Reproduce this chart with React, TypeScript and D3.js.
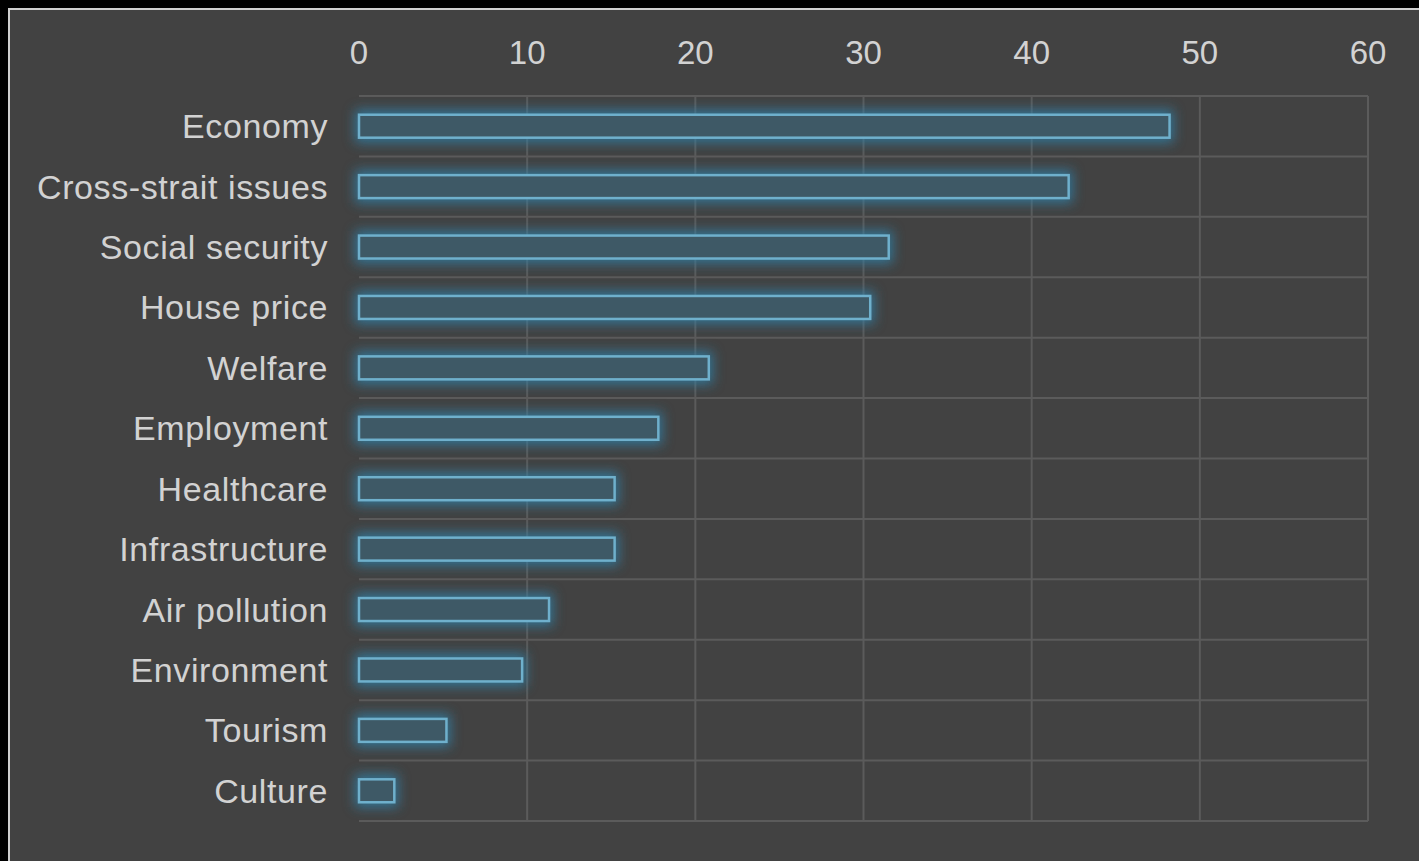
import React from "react";
import * as d3 from "d3";

const categories = [
  "Economy",
  "Cross-strait issues",
  "Social security",
  "House price",
  "Welfare",
  "Employment",
  "Healthcare",
  "Infrastructure",
  "Air pollution",
  "Environment",
  "Tourism",
  "Culture",
];
const values = [48.2, 42.2, 31.5, 30.4, 20.8, 17.8, 15.2, 15.2, 11.3, 9.7, 5.2, 2.1];
const tickValues = [0, 10, 20, 30, 40, 50, 60];

const W = 1419;
const H = 861;
const plot = { left: 359, right: 1368, top: 96, bottom: 821 };

export default function App() {
  const x = d3.scaleLinear().domain([0, 60]).range([plot.left, plot.right]);
  const y = d3
    .scaleBand<string>()
    .domain(categories)
    .range([plot.top, plot.bottom])
    .paddingInner(0.62)
    .paddingOuter(0.31);
  const rowY = d3.scaleBand<string>().domain(categories).range([plot.top, plot.bottom]);
  const font = "'Liberation Sans', Arial, sans-serif";
  const textColor = "#d2d2d2";
  const gridColor = "#5b5b5b";

  return (
    <svg
      width={W}
      height={H}
      style={{ position: "absolute", left: 0, top: 0, display: "block" }}
    >
      <defs>
        <filter id="glow" x="-20%" y="-100%" width="140%" height="300%">
          <feGaussianBlur in="SourceGraphic" stdDeviation="6" />
        </filter>
      </defs>
      <rect x={0} y={0} width={W} height={H} fill="#000" />
      <rect x={8} y={8} width={W - 8} height={H - 8} fill="#d0d0d0" />
      <rect x={10} y={10} width={W - 10} height={H - 10} fill="#424242" />

      {/* grid */}
      <g stroke={gridColor} strokeWidth={2} fill="none">
        {tickValues
          .filter((t) => t > 0)
          .map((t) => (
            <line key={"v" + t} x1={x(t)} x2={x(t)} y1={plot.top} y2={plot.bottom} />
          ))}
        {categories.map((c) => (
          <line key={"h" + c} x1={plot.left} x2={plot.right} y1={rowY(c)!} y2={rowY(c)!} />
        ))}
        <line x1={plot.left} x2={plot.right} y1={plot.bottom} y2={plot.bottom} />
      </g>

      {/* tick labels */}
      <g fill={textColor} fontFamily={font} fontSize={33} textAnchor="middle">
        {tickValues.map((t) => (
          <text key={t} x={x(t)} y={64}>
            {t}
          </text>
        ))}
      </g>

      {/* category labels */}
      <g fill={textColor} fontFamily={font} fontSize={34} textAnchor="end" letterSpacing={0.6}>
        {categories.map((c) => (
          <text key={c} x={328} y={rowY(c)! + rowY.bandwidth() / 2 + 12}>
            {c}
          </text>
        ))}
      </g>

      {/* bars glow */}
      <g filter="url(#glow)">
        {categories.map((c, i) => (
          <rect
            key={c}
            x={x(0) - 4}
            y={y(c)! - 5}
            width={x(values[i]) - x(0) + 8}
            height={y.bandwidth() + 10}
            fill="#2f7fa8"
            opacity={0.8}
          />
        ))}
      </g>
      {/* bars */}
      <g>
        {categories.map((c, i) => (
          <rect
            key={c}
            x={x(0)}
            y={y(c)!}
            width={x(values[i]) - x(0)}
            height={y.bandwidth()}
            fill="#3e5966"
            stroke="#6fb0cc"
            strokeWidth={2.5}
          />
        ))}
      </g>
    </svg>
  );
}
